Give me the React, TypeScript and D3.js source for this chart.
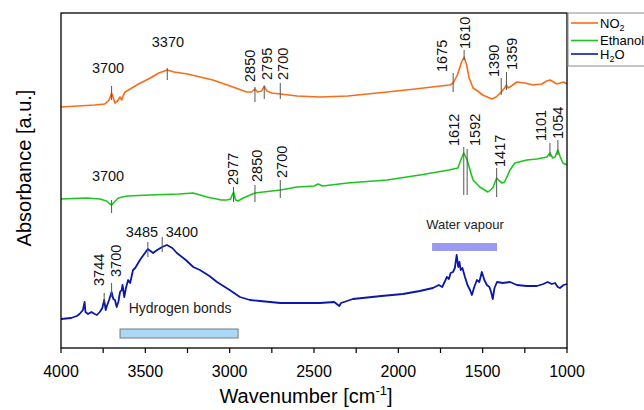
import React from 'react';
import * as d3 from 'd3';

// spectra: [wavenumber, absorbance (offset, a.u.)]
const no2Spectrum: [number, number][] = [
  [4000, 2.41], [3900, 2.42], [3800, 2.43], [3740, 2.44], [3715, 2.48], [3700, 2.55], [3690, 2.5],
  [3680, 2.45], [3665, 2.47], [3650, 2.51], [3640, 2.48], [3630, 2.53], [3620, 2.56], [3580, 2.6],
  [3540, 2.64], [3470, 2.7], [3420, 2.75], [3370, 2.78], [3330, 2.76], [3250, 2.74], [3176, 2.71],
  [3100, 2.68], [2980, 2.61], [2900, 2.56], [2870, 2.56], [2850, 2.59], [2835, 2.56], [2810, 2.57],
  [2795, 2.62], [2780, 2.57], [2750, 2.55], [2700, 2.54], [2600, 2.52], [2465, 2.51], [2300, 2.52],
  [2067, 2.56], [1900, 2.59], [1750, 2.62], [1694, 2.63], [1675, 2.65], [1650, 2.73], [1625, 2.86],
  [1610, 2.91], [1595, 2.83], [1580, 2.7], [1557, 2.6], [1530, 2.57], [1500, 2.53], [1445, 2.49],
  [1420, 2.51], [1390, 2.56], [1370, 2.6], [1359, 2.63], [1350, 2.6], [1330, 2.62], [1297, 2.66],
  [1250, 2.65], [1200, 2.63], [1150, 2.64], [1120, 2.67], [1100, 2.68], [1080, 2.66], [1060, 2.64],
  [1040, 2.65], [1020, 2.66], [1000, 2.64],
];

const ethanolSpectrum: [number, number][] = [
  [4000, 1.49], [3850, 1.5], [3769, 1.49], [3730, 1.47], [3710, 1.44], [3700, 1.43], [3690, 1.45],
  [3660, 1.5], [3609, 1.52], [3472, 1.53], [3300, 1.54], [3217, 1.55], [3135, 1.51], [3050, 1.48],
  [3016, 1.48], [2995, 1.49], [2977, 1.56], [2965, 1.48], [2950, 1.47], [2920, 1.5], [2850, 1.55],
  [2800, 1.56], [2700, 1.58], [2600, 1.61], [2500, 1.62], [2475, 1.64], [2450, 1.62], [2300, 1.65],
  [2067, 1.68], [1872, 1.73], [1700, 1.78], [1647, 1.8], [1625, 1.9], [1612, 1.95], [1600, 1.91],
  [1592, 1.88], [1575, 1.78], [1557, 1.68], [1517, 1.61], [1469, 1.56], [1440, 1.6], [1417, 1.7],
  [1400, 1.67], [1385, 1.65], [1370, 1.66], [1338, 1.78], [1309, 1.85], [1238, 1.88], [1180, 1.89],
  [1119, 1.91], [1101, 1.95], [1085, 1.9], [1071, 1.91], [1054, 1.98], [1040, 1.91], [1024, 1.85],
  [1000, 1.83],
];

const waterSpectrum: [number, number][] = [
  [4000, 0.29], [3940, 0.3], [3906, 0.32], [3890, 0.34], [3870, 0.38], [3860, 0.46], [3855, 0.36],
  [3840, 0.34], [3820, 0.36], [3800, 0.34], [3787, 0.33], [3770, 0.36], [3755, 0.4], [3744, 0.48],
  [3735, 0.38], [3728, 0.42], [3715, 0.48], [3700, 0.56], [3690, 0.49], [3680, 0.48], [3670, 0.41],
  [3660, 0.46], [3650, 0.56], [3640, 0.58], [3635, 0.63], [3625, 0.51], [3615, 0.6], [3602, 0.68],
  [3590, 0.65], [3573, 0.78], [3560, 0.8], [3532, 0.88], [3485, 0.99], [3454, 0.95], [3430, 0.98],
  [3400, 1.01], [3372, 1.03], [3340, 1.0], [3313, 0.95], [3260, 0.88], [3216, 0.81], [3176, 0.78],
  [3120, 0.72], [3075, 0.66], [3000, 0.58], [2939, 0.51], [2880, 0.48], [2820, 0.47], [2700, 0.45],
  [2583, 0.45], [2465, 0.45], [2380, 0.46], [2365, 0.44], [2350, 0.42], [2340, 0.45], [2269, 0.49],
  [2100, 0.52], [1973, 0.54], [1873, 0.57], [1795, 0.6], [1760, 0.63], [1740, 0.61], [1720, 0.68],
  [1713, 0.71], [1700, 0.69], [1690, 0.75], [1676, 0.76], [1665, 0.8], [1654, 0.93], [1645, 0.81],
  [1638, 0.86], [1630, 0.78], [1620, 0.8], [1605, 0.71], [1590, 0.63], [1575, 0.58], [1564, 0.53],
  [1550, 0.61], [1534, 0.68], [1520, 0.66], [1505, 0.76], [1490, 0.68], [1475, 0.63], [1460, 0.61],
  [1450, 0.56], [1440, 0.49], [1430, 0.6], [1415, 0.66], [1380, 0.65], [1338, 0.66], [1297, 0.63],
  [1240, 0.62], [1179, 0.62], [1140, 0.64], [1115, 0.66], [1090, 0.64], [1071, 0.65], [1055, 0.61],
  [1042, 0.6], [1020, 0.63], [1000, 0.64],
];

const seriesNames = ['NO2', 'Ethanol', 'H2O'];
const seriesColors = ['#f86c1a', '#1ec41e', '#0b17a6'];
const xTicks = [4000, 3500, 3000, 2500, 2000, 1500, 1000];

// peak marks: wavenumber, label, marker range (lo..hi), label anchor (tx, ty), rotated label
type Peak = { s: number; wn: number; label: string; lo: number; hi: number; tx: number; ty: number; rot: boolean };
const peaks: Peak[] = [
  { s: 0, wn: 3700, label: '3700', lo: 2.48, hi: 2.62, tx: 3721, ty: 2.8, rot: false },
  { s: 0, wn: 3370, label: '3370', lo: 2.68, hi: 2.8, tx: 3366, ty: 3.06, rot: false },
  { s: 0, wn: 2850, label: '2850', lo: 2.46, hi: 2.61, tx: 2879, ty: 2.66, rot: true },
  { s: 0, wn: 2795, label: '2795', lo: 2.49, hi: 2.62, tx: 2779, ty: 2.68, rot: true },
  { s: 0, wn: 2700, label: '2700', lo: 2.49, hi: 2.65, tx: 2684, ty: 2.68, rot: true },
  { s: 0, wn: 1675, label: '1675', lo: 2.56, hi: 2.75, tx: 1741, ty: 2.76, rot: true },
  { s: 0, wn: 1610, label: '1610', lo: 2.88, hi: 2.98, tx: 1605, ty: 2.99, rot: true },
  { s: 0, wn: 1390, label: '1390', lo: 2.53, hi: 2.7, tx: 1433, ty: 2.71, rot: true },
  { s: 0, wn: 1359, label: '1359', lo: 2.58, hi: 2.76, tx: 1326, ty: 2.78, rot: true },
  { s: 1, wn: 3700, label: '3700', lo: 1.35, hi: 1.48, tx: 3721, ty: 1.72, rot: false },
  { s: 1, wn: 2977, label: '2977', lo: 1.46, hi: 1.61, tx: 2980, ty: 1.63, rot: true },
  { s: 1, wn: 2850, label: '2850', lo: 1.46, hi: 1.63, tx: 2840, ty: 1.66, rot: true },
  { s: 1, wn: 2700, label: '2700', lo: 1.5, hi: 1.68, tx: 2690, ty: 1.7, rot: true },
  { s: 1, wn: 1612, label: '1612', lo: 1.53, hi: 2.01, tx: 1671, ty: 2.02, rot: true },
  { s: 1, wn: 1592, label: '1592', lo: 1.53, hi: 1.99, tx: 1545, ty: 2.02, rot: true },
  { s: 1, wn: 1417, label: '1417', lo: 1.51, hi: 1.8, tx: 1397, ty: 1.81, rot: true },
  { s: 1, wn: 1101, label: '1101', lo: 1.91, hi: 2.05, tx: 1154, ty: 2.07, rot: true },
  { s: 1, wn: 1054, label: '1054', lo: 1.93, hi: 2.08, tx: 1054, ty: 2.09, rot: true },
  { s: 2, wn: 3744, label: '3744', lo: 0.45, hi: 0.55, tx: 3775, ty: 0.62, rot: true },
  { s: 2, wn: 3700, label: '3700', lo: 0.51, hi: 0.65, tx: 3674, ty: 0.71, rot: true },
  { s: 2, wn: 3485, label: '3485', lo: 0.91, hi: 1.06, tx: 3520, ty: 1.16, rot: false },
  { s: 2, wn: 3400, label: '3400', lo: 0.96, hi: 1.11, tx: 3283, ty: 1.16, rot: false },
];

// shaded ranges
const bands = [
  { label: 'Hydrogen bonds', from: 3650, to: 2950, lo: 0.1, hi: 0.19, tx: 3294, ty: 0.35, fill: '#aad8f8', stroke: '#7a7a7a' },
  { label: 'Water vapour', from: 1800, to: 1415, lo: 0.97, hi: 1.05, tx: 1605, ty: 1.19, fill: '#9a9af0', stroke: 'none' },
];

const W = 644, H = 410;
const margin = { top: 13, right: 77, bottom: 62, left: 61 };

export default function App() {
  const iw = W - margin.left - margin.right;
  const ih = H - margin.top - margin.bottom;
  const x = d3.scaleLinear().domain([4000, 1000]).range([0, iw]);
  const y = d3.scaleLinear().domain([0, 3.35]).range([ih, 0]);
  const line = d3.line<[number, number]>().x(d => x(d[0])).y(d => y(d[1]));
  const spectra = [no2Spectrum, ethanolSpectrum, waterSpectrum];
  const font = 'Arial, "Liberation Sans", sans-serif';

  return (
    <svg width={W} height={H} style={{ position: 'absolute', left: 0, top: 0, background: '#fff' }} fontFamily={font}>
      <g transform={`translate(${margin.left},${margin.top})`}>
        {spectra.map((d, i) => (
          <path key={i} d={line(d) || ''} fill="none" stroke={seriesColors[i]} strokeWidth={i === 2 ? 1.8 : 1.6} strokeLinejoin="round" />
        ))}

        {peaks.map((p, i) => (
          <g key={i}>
            <line x1={x(p.wn)} x2={x(p.wn)} y1={y(p.lo)} y2={y(p.hi)} stroke="#555" strokeWidth={1} />
            {p.rot ? (
              <text transform={`translate(${x(p.tx)},${y(p.ty)}) rotate(-90)`} dy="0.35em" fontSize={14.5} fill="#111">{p.label}</text>
            ) : (
              <text x={x(p.tx)} y={y(p.ty)} dy="0.35em" textAnchor="middle" fontSize={14.5} fill="#111">{p.label}</text>
            )}
          </g>
        ))}

        {bands.map((b, i) => (
          <g key={i}>
            <rect x={x(b.from)} width={x(b.to) - x(b.from)} y={y(b.hi)} height={y(b.lo) - y(b.hi)} fill={b.fill} stroke={b.stroke} strokeWidth={1} />
            <text x={x(b.tx)} y={y(b.ty)} textAnchor="middle" fontSize={i === 0 ? 14 : 13} fill="#222">{b.label}</text>
          </g>
        ))}

        <rect x={0} y={0} width={iw} height={ih} fill="none" stroke="#000" strokeWidth={1.3} />

        {d3.range(4000, 999, -250).map(t => (
          <line key={t} x1={x(t)} x2={x(t)} y1={ih} y2={ih + 5} stroke="#000" strokeWidth={1.2} />
        ))}
        {xTicks.map(t => (
          <text key={t} x={x(t)} y={ih + 29} textAnchor="middle" fontSize={16} fill="#000">{t}</text>
        ))}

        <text x={iw / 2 - 8} y={ih + 55} textAnchor="middle" fontSize={20} fill="#000">
          Wavenumber [cm<tspan fontSize={13} dy={-8}>-1</tspan><tspan dy={8}>]</tspan>
        </text>
        <text transform={`translate(${24 - margin.left},${168 - margin.top}) rotate(-90)`} dy="0.35em" textAnchor="middle" fontSize={20} fill="#000">
          Absorbance [a.u.]
        </text>

        <g transform={`translate(${iw + 1},0)`}>
          <rect x={0} y={0} width={90} height={53} fill="#fff" stroke="#8a8a8a" strokeWidth={1} />
          {seriesNames.map((n, i) => {
            const ly = [10, 27.5, 41][i];
            return (
              <g key={n} transform={`translate(0,${ly})`}>
                <line x1={3} x2={30} y1={0} y2={0} stroke={seriesColors[i]} strokeWidth={1.6} />
                <text x={32} dy="0.35em" fontSize={13} fill="#000">
                  {n === 'NO2' ? (<>NO<tspan fontSize={9} dy={3}>2</tspan></>) :
                    n === 'H2O' ? (<>H<tspan fontSize={9} dy={3}>2</tspan><tspan dy={-3}>O</tspan></>) : n}
                </text>
              </g>
            );
          })}
        </g>
      </g>
    </svg>
  );
}
